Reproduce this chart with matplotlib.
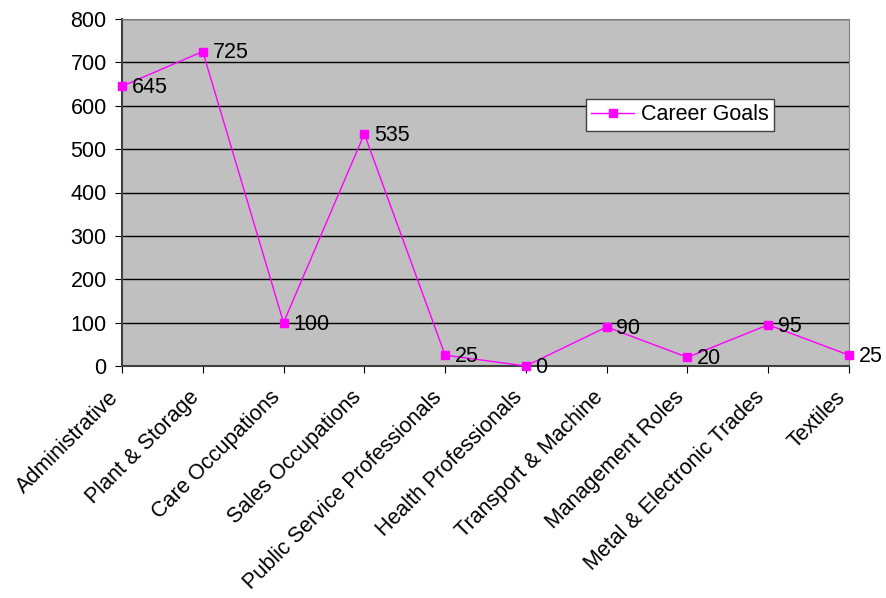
import matplotlib.pyplot as plt
from matplotlib.transforms import ScaledTranslation

plt.rcParams['font.family'] = ['Liberation Sans', 'DejaVu Sans']

# career goal counts per occupation group
categories = ["Administrative", "Plant & Storage", "Care Occupations",
              "Sales Occupations", "Public Service Professionals",
              "Health Professionals", "Transport & Machine",
              "Management Roles", "Metal & Electronic Trades", "Textiles"]
goals = [645, 725, 100, 535, 25, 0, 90, 20, 95, 25]

fs = 15.5

fig = plt.figure(figsize=(8.86, 5.98), dpi=100)
ax = fig.add_axes([122/886, 1 - 366/598, 727/886, 347/598])
ax.set_facecolor('#C0C0C0')

x = list(range(len(categories)))
ax.plot(x, goals, color='#FF00FF', linewidth=1, marker='s', markersize=6,
        label='Career Goals', clip_on=False, zorder=3)

for xi, v in zip(x, goals):
    ax.annotate(str(v), (xi, v), xytext=(7, -1), textcoords='offset points',
                ha='left', va='center', fontsize=fs, color='black',
                annotation_clip=False)

ax.set_xlim(0, len(categories) - 1)
ax.set_ylim(0, 800)
ax.set_yticks(range(0, 801, 100))
ax.set_xticks(x)
ax.set_xticklabels(categories, rotation=45, ha='right', rotation_mode='anchor',
                   fontsize=fs)
ax.tick_params(axis='y', labelsize=fs, direction='out', length=5, pad=6)
ax.tick_params(axis='x', direction='out', length=5, pad=10)

# nudge the rotated category labels left so they end just before each tick
shift = ScaledTranslation(-14/100, 0, fig.dpi_scale_trans)
for lbl in ax.get_xticklabels():
    lbl.set_transform(lbl.get_transform() + shift)

ax.yaxis.grid(True, color='black', linewidth=1)
ax.set_axisbelow(True)

for side in ['top', 'right']:
    ax.spines[side].set_color('#808080')
for side in ['left', 'bottom']:
    ax.spines[side].set_color('#404040')
    ax.spines[side].set_linewidth(1.5)

leg = ax.legend(loc='upper left', bbox_to_anchor=(0.638, 0.77), fontsize=fs,
                frameon=True, fancybox=False, framealpha=1, edgecolor='#404040',
                handlelength=2.0, borderpad=0.25, handletextpad=0.3,
                borderaxespad=0)
leg.get_frame().set_linewidth(1)

fig.savefig('out.png', dpi=100)
